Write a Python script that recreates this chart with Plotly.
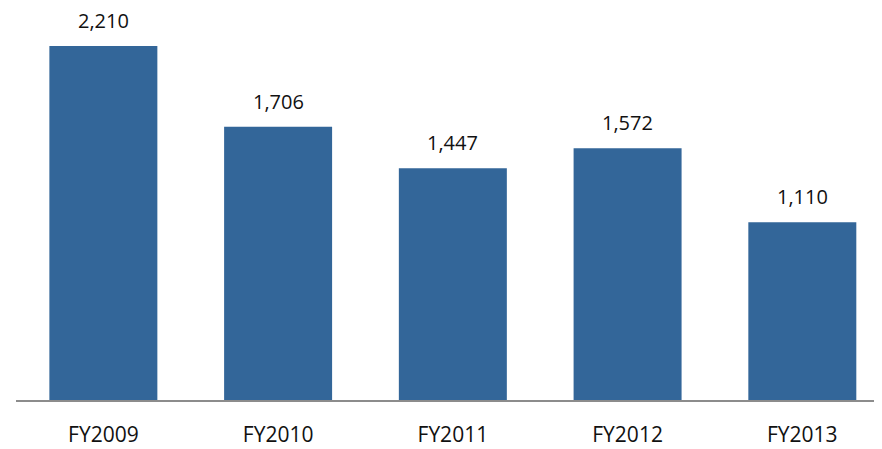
import plotly.graph_objects as go

categories = ["FY2009", "FY2010", "FY2011", "FY2012", "FY2013"]
values = [2210, 1706, 1447, 1572, 1110]
value_labels = ["2,210", "1,706", "1,447", "1,572", "1,110"]

BAR_COLOR = "#336699"
FONT = "Open Sans"

fig = go.Figure(go.Bar(
    x=categories, y=values, marker=dict(color=BAR_COLOR, line=dict(width=0)),
    hoverinfo="skip",
))

for c, v, t in zip(categories, values, value_labels):
    fig.add_annotation(x=c, y=v, text=t, showarrow=False, yanchor="bottom",
                       yshift=11, borderpad=0,
                       font=dict(family=FONT, size=20, color="#111111"))

# page body adds an 8px offset; figure is sized to fill the remaining window
fig.update_layout(
    width=874, height=441,
    margin=dict(l=8, r=0, t=0, b=49, autoexpand=False),
    paper_bgcolor="white", plot_bgcolor="white",
    bargap=0.382, showlegend=False,
    xaxis=dict(showline=True, linecolor="#8c8c8c", linewidth=2, showgrid=False,
               ticks="", ticklabelstandoff=15, automargin=False,
               range=[-0.5, 4.456],
               tickfont=dict(family=FONT, size=21, color="#111111")),
    yaxis=dict(visible=False, range=[0, 2447], showgrid=False, zeroline=False,
               automargin=False),
)

fig.write_html("out.html")
